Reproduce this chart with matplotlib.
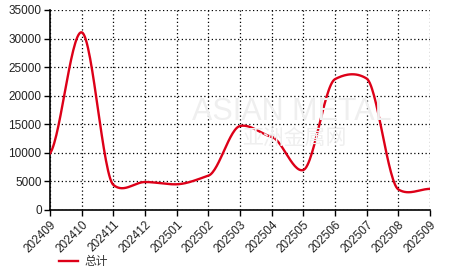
"""Monthly total volume, 202409-202509, smoothed line chart."""

import numpy as np
import matplotlib

matplotlib.use("Agg")
import matplotlib.pyplot as plt

plt.rcParams["font.family"] = ["Liberation Sans", "Noto Sans CJK SC", "DejaVu Sans"]

months = ["202409", "202410", "202411", "202412", "202501", "202502", "202503",
          "202504", "202505", "202506", "202507", "202508", "202509"]
totals = [9900, 31100, 4400, 4900, 4500, 6000, 14700,
          12800, 7000, 22900, 23000, 3600, 3700]
series_name = "总计"
y_ticks = [0, 5000, 10000, 15000, 20000, 25000, 30000, 35000]


def _cardinal(y, scale=0.36, n=30):
    """Cardinal spline through the points (x = index)."""
    y = np.asarray(y, dtype=float)
    k = len(y)
    m = np.zeros(k)
    m[1:-1] = scale * (y[2:] - y[:-2]) / 2.0
    m[0] = scale * (y[1] - y[0])
    m[-1] = scale * (y[-1] - y[-2])
    xs, ys = [], []
    t = np.linspace(0, 1, n, endpoint=False)
    h00 = 2 * t**3 - 3 * t**2 + 1
    h10 = t**3 - 2 * t**2 + t
    h01 = -2 * t**3 + 3 * t**2
    h11 = t**3 - t**2
    for i in range(k - 1):
        xs.append(i + t)
        ys.append(h00 * y[i] + h10 * m[i] + h01 * y[i + 1] + h11 * m[i + 1])
    xs.append([k - 1])
    ys.append([y[-1]])
    return np.concatenate(xs), np.concatenate(ys)


fig = plt.figure(figsize=(4.66, 2.72), dpi=100)
ax = fig.add_axes([50 / 466, 62 / 272, 380 / 466, 200 / 272])

# faint watermark
fig.text(292 / 466, 1 - 112 / 272, "ASIAN METAL", fontsize=22, color="#efefef",
         ha="center", va="center", zorder=0)
fig.text(294 / 466, 1 - 138 / 272, "亚洲金属网", fontsize=15, color="#efefef",
         ha="center", va="center", family=["Noto Sans CJK SC", "DejaVu Sans"], zorder=0)

xs, ys = _cardinal(totals)
ax.plot(xs, ys, color="#dd0018", linewidth=1.7, label=series_name, zorder=3)

ax.set_xlim(0, len(months) - 1)
ax.set_ylim(0, 35000)
ax.set_xticks(range(len(months)))
ax.set_xticklabels(months, rotation=45, ha="right", rotation_mode="anchor")
ax.set_yticks(y_ticks)
ax.tick_params(axis="both", labelsize=8.5, labelcolor="#222222", length=4,
               width=1, color="black", pad=2)

ax.grid(True, linestyle=(0, (1, 2)), color="black", linewidth=0.9)
ax.set_axisbelow(False)
for side in ("top", "right"):
    ax.spines[side].set_visible(False)
for side in ("left", "bottom"):
    ax.spines[side].set_linewidth(1.2)
ax.patch.set_alpha(0)

leg = fig.legend(loc="lower left", bbox_to_anchor=(48 / 466, -7 / 272), frameon=False,
                 handlelength=1.6, handletextpad=0.6,
                 prop={"family": ["Noto Sans CJK SC", "DejaVu Sans"], "size": 8.5})
for t in leg.get_texts():
    t.set_color("#333333")

fig.savefig("out.png", dpi=100)
